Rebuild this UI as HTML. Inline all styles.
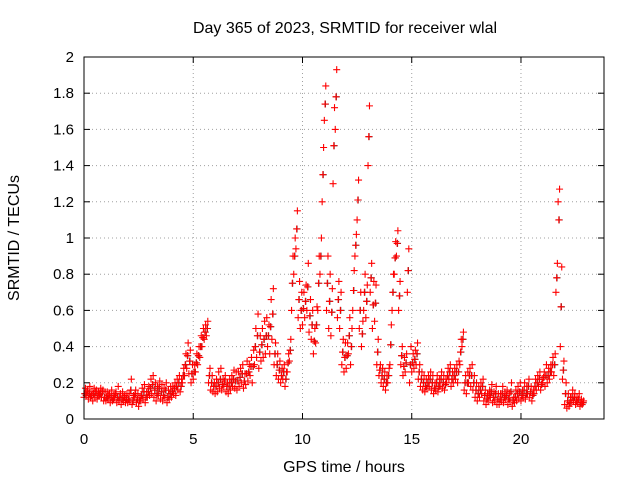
<!DOCTYPE html>
<html><head><meta charset="utf-8"><style>
body{margin:0;background:#fff;width:640px;height:480px;overflow:hidden}
svg{font-family:"Liberation Sans",sans-serif;font-size:15px}
</style></head><body>
<svg id="c" width="640" height="480">
<rect x="0" y="0" width="640" height="480" fill="#fff"/>
<g id="grid"></g><g id="ticks"></g><g id="marks"></g>
<rect x="84" y="57" width="520" height="362" fill="none" stroke="#000" stroke-width="1"/>
<text x="345" y="33" text-anchor="middle" font-size="16">Day 365 of 2023, SRMTID for receiver wlal</text>
<text x="344" y="472" text-anchor="middle" font-size="16">GPS time / hours</text>
<text transform="translate(19,238) rotate(-90)" text-anchor="middle" font-size="16">SRMTID / TECUs</text>
</svg>
<script>
const xTicks=[0,5,10,15,20];
const yTicks=[0,0.2,0.4,0.6,0.8,1,1.2,1.4,1.6,1.8,2];
const yTickLabels=["0","0.2","0.4","0.6","0.8","1","1.2","1.4","1.6","1.8","2"];
const stepHours=0.1;
const seriesLow=[.12,.13,.11,.12,.10,.12,.11,.13,.12,.10,
.10,.11,.09,.10,.12,.09,.10,.08,.10,.09,
.09,.10,.08,.12,.09,.07,.10,.11,.09,.12,
.13,.14,.12,.10,.13,.11,.10,.12,.09,.11,
.12,.14,.13,.16,.15,.20,.24,.28,.25,.20,
.22,.26,.30,.34,.40,.44,.46,.20,.16,.15,
.14,.15,.17,.16,.18,.15,.14,.16,.18,.17,
.16,.18,.20,.17,.19,.21,.24,.20,.30,.34,
.28,.32,.34,.36,.40,.36,.44,.30,.24,.22,
.20,.22,.18,.26,.32,.60,.80,.94,.56,.50,
.52,.56,.60,.48,.44,.36,.42,.60,.80,1.20,
1.65,.60,.50,.46,1.30,1.60,.56,.50,.30,.26,
.28,.36,.30,.60,.90,1.10,.50,.40,.60,.56,
1.40,.70,.50,.54,.30,.24,.20,.18,.16,.20,
.30,.60,.80,.90,.60,.30,.24,.26,.70,.20,
.26,.28,.30,.22,.18,.16,.15,.17,.18,.16,
.14,.16,.15,.18,.17,.16,.20,.22,.18,.20,
.22,.20,.30,.40,.16,.14,.20,.18,.16,.12,
.10,.12,.14,.10,.08,.10,.12,.09,.10,.08,
.08,.10,.09,.11,.08,.10,.07,.09,.10,.11,
.10,.12,.11,.14,.12,.10,.14,.16,.18,.16,
.20,.18,.20,.22,.26,.24,.70,1.20,.40,.22,
.08,.06,.07,.09,.10,.08,.09,.07,.08];
const seriesMid=[.14,.15,.14,.13,.14,.15,.13,.14,.15,.12,
.12,.13,.12,.11,.14,.12,.12,.11,.12,.11,
.11,.16,.10,.14,.11,.10,.13,.15,.12,.15,
.17,.19,.16,.14,.17,.15,.13,.16,.12,.14,
.15,.17,.18,.20,.18,.24,.30,.35,.32,.25,
.26,.31,.35,.40,.45,.48,.50,.24,.20,.18,
.18,.20,.22,.19,.21,.18,.18,.20,.22,.21,
.21,.23,.25,.21,.25,.26,.29,.29,.40,.46,
.37,.41,.44,.46,.46,.51,.58,.36,.30,.27,
.24,.26,.22,.31,.38,.75,.90,1.05,.66,.60,
.61,.65,.73,.57,.52,.43,.52,.75,.90,1.35,
1.74,.75,.65,.59,1.51,1.78,.66,.60,.37,.34,
.35,.46,.40,.71,.96,1.21,.60,.47,.70,.65,
1.56,.78,.63,.64,.37,.27,.24,.22,.20,.24,
.41,.70,.89,.97,.68,.35,.29,.31,.82,.30,
.31,.33,.36,.26,.22,.20,.18,.20,.22,.20,
.17,.20,.18,.22,.20,.19,.24,.26,.22,.24,
.26,.26,.37,.44,.20,.20,.24,.24,.20,.16,
.14,.16,.18,.13,.11,.13,.15,.12,.14,.11,
.11,.14,.12,.13,.11,.15,.10,.12,.14,.15,
.13,.16,.14,.18,.15,.13,.18,.20,.22,.19,
.23,.24,.24,.26,.30,.30,.78,1.10,.62,.27,
.14,.10,.09,.12,.12,.10,.11,.09,.09];
const seriesHigh=[.17,.16,.18,.15,.17,.16,.15,.17,.16,.15,
.15,.14,.16,.13,.15,.18,.14,.15,.13,.14,
.14,.22,.13,.16,.14,.12,.17,.19,.15,.18,
.22,.24,.20,.18,.21,.19,.17,.20,.16,.18,
.18,.20,.22,.24,.22,.28,.36,.42,.38,.30,
.30,.36,.40,.46,.50,.52,.54,.28,.24,.20,
.22,.26,.28,.22,.24,.20,.22,.24,.27,.26,
.26,.28,.30,.25,.32,.30,.34,.38,.50,.58,
.46,.50,.54,.56,.52,.66,.72,.42,.36,.32,
.28,.30,.26,.36,.44,.90,1.00,1.15,.76,.70,
.70,.74,.86,.66,.60,.50,.62,.90,1.00,1.50,
1.84,.90,.80,.72,1.72,1.93,.76,.70,.44,.42,
.42,.56,.50,.82,1.02,1.32,.70,.54,.80,.74,
1.73,.86,.76,.74,.44,.30,.28,.26,.24,.28,
.52,.80,.98,1.04,.76,.40,.34,.36,.94,.40,
.36,.38,.42,.30,.26,.24,.22,.24,.26,.24,
.20,.24,.22,.26,.24,.22,.28,.30,.26,.28,
.30,.32,.44,.48,.24,.26,.28,.30,.24,.20,
.18,.20,.22,.16,.14,.16,.19,.15,.18,.14,
.14,.18,.15,.16,.14,.20,.12,.16,.18,.20,
.16,.20,.18,.22,.18,.16,.22,.24,.26,.22,
.26,.30,.28,.30,.34,.36,.86,1.27,.84,.32,
.20,.14,.12,.16,.14,.12,.14,.11,.10];
const X0=84,X1=604,Y0=419,Y1=57,XMAX=23.8,YMAX=2;
function xs(v){return X0+(X1-X0)*v/XMAX;}
function ys(v){return Y0-(Y0-Y1)*v/YMAX;}
const NS="http://www.w3.org/2000/svg";
const grid=document.getElementById('grid'),ticks=document.getElementById('ticks'),marks=document.getElementById('marks');
function mk(tag,attrs,parent){const e=document.createElementNS(NS,tag);for(const k in attrs)e.setAttribute(k,attrs[k]);parent.appendChild(e);return e;}
xTicks.forEach(t=>{
 const x=xs(t);
 const g=mk('line',{x1:x,x2:x,y1:Y1,y2:Y0,stroke:'#a0a0a0','stroke-dasharray':'1,3'},grid);
 
 
 mk('line',{x1:x,x2:x,y1:Y0,y2:Y0-6,stroke:'#000'},ticks);
 mk('line',{x1:x,x2:x,y1:Y1,y2:Y1+6,stroke:'#000'},ticks);
 const l=mk('text',{x:x,y:Y0+25,'text-anchor':'middle'},ticks);
 l.textContent=String(t);
 
 
});
yTicks.forEach((t,i)=>{
 const y=ys(t);
 const g=mk('line',{x1:X0,x2:X1,y1:y,y2:y,stroke:'#a0a0a0','stroke-dasharray':'1,3'},grid);
 
 
 mk('line',{x1:X0,x2:X0+6,y1:y,y2:y,stroke:'#000'},ticks);
 mk('line',{x1:X1,x2:X1-6,y1:y,y2:y,stroke:'#000'},ticks);
 const l=mk('text',{x:X0-10,y:y+5,'text-anchor':'end'},ticks);
 l.textContent=yTickLabels[i];
 
 
});
function plotSeries(arr,offset,color){
 arr.forEach((v,i)=>{
  const x=xs(i*stepHours+offset),y=ys(v);
  const p=mk('path',{d:`M${x-3.5} ${y}h7M${x} ${y-3.5}v7`,stroke:color,'stroke-width':1.1,fill:'none'},marks);
  
  
 });
}
plotSeries(seriesMid,0.05,'#404040');
plotSeries(seriesLow,0,'#f00');
plotSeries(seriesMid,0.033,'#f00');
plotSeries(seriesHigh,0.066,'#f00');
</script>
</body></html>
